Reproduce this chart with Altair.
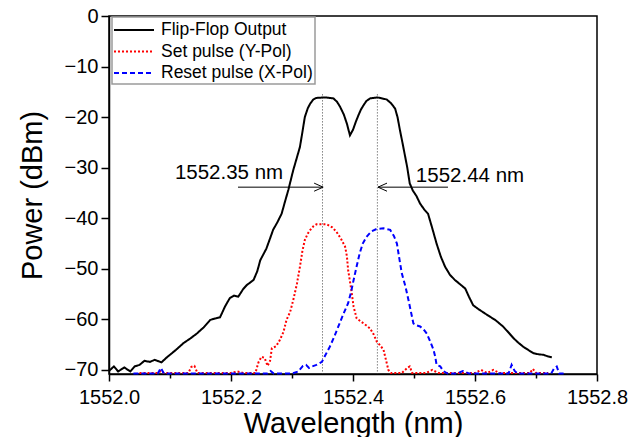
import altair as alt
import pandas as pd

FONT = "Liberation Sans"

# Flip-Flop Output (black)
ff_wl = [1552.000, 1552.008, 1552.015, 1552.025, 1552.035, 1552.042, 1552.050, 1552.058, 1552.067, 1552.075,
         1552.086, 1552.094, 1552.100, 1552.110, 1552.122, 1552.133, 1552.144, 1552.155, 1552.166, 1552.175,
         1552.182, 1552.190, 1552.198, 1552.205, 1552.212, 1552.220, 1552.226, 1552.237, 1552.243, 1552.248,
         1552.258, 1552.264, 1552.269, 1552.276, 1552.283, 1552.289, 1552.294, 1552.302, 1552.308, 1552.313,
         1552.317, 1552.321, 1552.326, 1552.330, 1552.335, 1552.340, 1552.355, 1552.368, 1552.374, 1552.379,
         1552.385, 1552.390, 1552.395, 1552.400, 1552.405, 1552.409, 1552.413, 1552.417, 1552.422, 1552.428,
         1552.440, 1552.455, 1552.462, 1552.469, 1552.473, 1552.477, 1552.481, 1552.485, 1552.489, 1552.493,
         1552.498, 1552.504, 1552.510, 1552.517, 1552.523, 1552.530, 1552.537, 1552.544, 1552.551, 1552.559,
         1552.567, 1552.575, 1552.584, 1552.590, 1552.597, 1552.606, 1552.616, 1552.625, 1552.633, 1552.640,
         1552.646, 1552.655, 1552.663, 1552.671, 1552.679, 1552.688, 1552.696, 1552.704, 1552.712, 1552.719,
         1552.726]
ff_p = [-70.2, -69.3, -70.3, -69.5, -70.3, -69.3, -69.0, -68.2, -68.4, -68.0,
        -68.5, -67.6, -67.0, -66.0, -64.7, -63.8, -62.8, -61.6, -60.1, -59.8,
        -59.6, -57.5, -55.8, -55.3, -55.5, -54.0, -53.2, -52.2, -50.5, -48.3,
        -46.0, -44.0, -42.3, -40.8, -39.1, -36.5, -34.4, -30.5, -28.0, -25.9,
        -23.0, -20.0, -18.2, -17.3, -16.5, -16.2, -16.1, -16.3, -17.0, -18.0,
        -19.5, -21.3, -23.6, -22.5, -20.8, -19.6, -18.5, -17.7, -16.8, -16.3,
        -16.1, -16.5, -17.2, -18.3, -20.0, -22.6, -25.0, -27.5, -30.0, -33.1,
        -34.5, -35.6, -37.1, -38.3, -39.1, -42.0, -45.0, -47.6, -49.6, -51.2,
        -52.2, -53.0, -53.9, -55.5, -57.2, -58.0, -58.8, -59.5, -60.1, -60.8,
        -61.4, -62.6, -63.7, -64.6, -65.4, -66.1, -66.7, -66.9, -67.0, -67.3,
        -67.5]

# Set pulse (Y-Pol) (red dotted)
set_wl = [1552.050, 1552.080, 1552.085, 1552.090, 1552.130, 1552.135, 1552.140, 1552.145, 1552.200, 1552.210,
          1552.220, 1552.240, 1552.245, 1552.250, 1552.255, 1552.260, 1552.264, 1552.267, 1552.274, 1552.280,
          1552.286, 1552.291, 1552.297, 1552.302, 1552.308, 1552.313, 1552.317, 1552.321, 1552.326, 1552.330,
          1552.335, 1552.340, 1552.357, 1552.366, 1552.373, 1552.380, 1552.387, 1552.390, 1552.392, 1552.397,
          1552.401, 1552.406, 1552.415, 1552.422, 1552.428, 1552.434, 1552.439, 1552.445, 1552.450, 1552.454,
          1552.458, 1552.462, 1552.480, 1552.490, 1552.493, 1552.497, 1552.520, 1552.530, 1552.540, 1552.600,
          1552.610, 1552.620, 1552.630, 1552.640, 1552.690, 1552.695, 1552.700, 1552.720]
set_p = [-70.6, -70.6, -70.2, -70.6, -70.6, -69.4, -69.2, -70.6, -70.6, -70.3,
         -70.6, -70.6, -68.5, -67.4, -67.6, -69.2, -68.2, -65.7, -65.3, -64.1,
         -62.5, -60.1, -58.5, -56.2, -53.0, -49.6, -46.5, -44.3, -43.0, -42.3,
         -41.6, -41.2, -41.2, -41.8, -42.7, -44.0, -45.6, -47.5, -50.2, -54.0,
         -57.5, -59.8, -60.6, -61.2, -61.8, -63.0, -64.4, -65.2, -66.0, -68.0,
         -70.0, -70.6, -70.6, -69.5, -69.3, -70.6, -70.6, -70.0, -70.6, -70.6,
         -70.0, -70.6, -70.0, -70.6, -70.6, -69.8, -70.6, -70.6]

# Reset pulse (X-Pol) (blue dashed)
reset_wl = [1552.040, 1552.080, 1552.085, 1552.090, 1552.150, 1552.260, 1552.265, 1552.270, 1552.300, 1552.310,
            1552.318, 1552.323, 1552.328, 1552.333, 1552.340, 1552.349, 1552.355, 1552.362, 1552.369, 1552.376,
            1552.384, 1552.392, 1552.397, 1552.401, 1552.406, 1552.411, 1552.416, 1552.422, 1552.430, 1552.439,
            1552.450, 1552.461, 1552.467, 1552.472, 1552.476, 1552.480, 1552.486, 1552.491, 1552.495, 1552.499,
            1552.505, 1552.510, 1552.516, 1552.521, 1552.527, 1552.532, 1552.535, 1552.537, 1552.543, 1552.548,
            1552.555, 1552.570, 1552.580, 1552.590, 1552.655, 1552.660, 1552.665, 1552.670, 1552.725, 1552.730,
            1552.734, 1552.738, 1552.748]
reset_p = [-70.7, -70.7, -69.6, -70.7, -70.7, -70.7, -70.2, -70.7, -70.7, -70.3,
           -69.2, -69.0, -69.6, -69.3, -69.0, -68.4, -67.0, -65.4, -63.5, -61.4,
           -59.0, -56.8, -54.5, -52.2, -49.5, -46.9, -45.0, -43.7, -42.6, -42.1,
           -42.0, -42.3, -43.5, -45.0, -48.0, -50.9, -53.5, -56.2, -58.5, -60.8,
           -61.2, -61.4, -62.0, -62.8, -64.5, -66.0, -67.5, -69.0, -69.3, -70.2,
           -70.7, -70.7, -70.2, -70.7, -70.7, -69.0, -70.2, -70.7, -70.7, -69.6,
           -69.3, -70.7, -70.7]

series_names = ["Flip-Flop Output", "Set pulse (Y-Pol)", "Reset pulse (X-Pol)"]
series_colors = ["#000000", "#ff0000", "#0000ff"]
series_dash = [[1, 0], [2, 2], [5, 3]]

# annotations
peak_wl = [1552.35, 1552.44]
peak_labels = ["1552.35 nm", "1552.44 nm"]
arrow_tail_wl = [1552.2115, 1552.5557]
arrow_tip_wl = [1552.351, 1552.441]
arrow_p = [-33.85, -33.85]
label_wl = [1552.108, 1552.503]
label_p = [-31.1, -31.6]
vline_top = -15.5
vline_bottom = -70.8

x_ticks = [round(1552.0 + 0.05 * k, 2) for k in range(17)]
y_ticks = [-70 + 5 * k for k in range(15)]

rows = []
for name, wl, p in zip(series_names, [ff_wl, set_wl, reset_wl], [ff_p, set_p, reset_p]):
    for a, b in zip(wl, p):
        rows.append({"series": name, "wl": a, "p": b})
df = pd.DataFrame(rows)

xscale = alt.Scale(domain=[1552.0, 1552.8], nice=False, zero=False)
yscale = alt.Scale(domain=[-70.8, 0], nice=False, zero=False)

xaxis = alt.Axis(
    title="Wavelength (nm)", values=x_ticks, grid=False,
    labelExpr="round(datum.value*20) % 4 === 0 ? format(datum.value, '.1f') : ''",
    tickSize={"condition": {"test": "round(datum.value*20) % 4 === 0", "value": 7}, "value": 4},
    labelPadding=6, titlePadding=2, labelOverlap=False, labelFlush=False,
)
yaxis = alt.Axis(
    title="Power (dBm)", values=y_ticks, grid=False,
    labelExpr="datum.value % 10 === 0 ? format(datum.value, 'd') : ''",
    tickSize={"condition": {"test": "datum.value % 10 === 0", "value": 8}, "value": 4},
    labelPadding=3, titlePadding=17, labelOverlap=False, labelFlush=False,
)

lines = alt.Chart(df).mark_line(strokeWidth=2, interpolate="linear").encode(
    x=alt.X("wl:Q", scale=xscale, axis=xaxis),
    y=alt.Y("p:Q", scale=yscale, axis=yaxis),
    color=alt.Color("series:N", scale=alt.Scale(domain=series_names, range=series_colors),
                    sort=series_names,
                    legend=alt.Legend(title=None, orient="none", legendX=3, legendY=1,
                                      symbolType="M-2,0L2,0", symbolSize=400, symbolStrokeWidth=2,
                                      symbolOffset=9, labelOffset=16,
                                      labelFontSize=17.5, labelFont=FONT,
                                      padding=2, rowPadding=1.5, labelLimit=400,
                                      strokeColor="#9a9a9a", fillColor="white")),
    strokeDash=alt.StrokeDash("series:N", scale=alt.Scale(domain=series_names, range=series_dash),
                              sort=series_names, legend=alt.Legend(title=None)),
)

vdf = pd.DataFrame({"wl": peak_wl, "top": [vline_top] * 2, "bottom": [vline_bottom] * 2})
vlines = alt.Chart(vdf).mark_rule(color="#444444", strokeWidth=1, strokeDash=[1, 2]).encode(
    x="wl:Q", y="top:Q", y2="bottom:Q")

adf = pd.DataFrame({"tail": arrow_tail_wl, "tip": arrow_tip_wl, "p": arrow_p,
                    "lx": label_wl, "lp": label_p, "label": peak_labels,
                    "dir": ["right", "left"]})
shafts = alt.Chart(adf).mark_rule(color="black", strokeWidth=1).encode(
    x="tail:Q", x2="tip:Q", y="p:Q")
head_r = alt.Chart(adf).transform_filter("datum.dir === 'right'").mark_point(
    shape="M-1,-0.45L0,0L-1,0.45", size=324, filled=False, stroke="black", strokeWidth=1, opacity=1
).encode(x="tip:Q", y="p:Q")
head_l = alt.Chart(adf).transform_filter("datum.dir === 'left'").mark_point(
    shape="M1,-0.45L0,0L1,0.45", size=324, filled=False, stroke="black", strokeWidth=1, opacity=1
).encode(x="tip:Q", y="p:Q")
labels = alt.Chart(adf).mark_text(align="left", baseline="middle", fontSize=20.5, font=FONT,
                                  color="black").encode(x="lx:Q", y="lp:Q", text="label:N")

chart = alt.layer(vlines, lines, shafts, head_r, head_l, labels).properties(
    width=488, height=358,
    padding={"left": 101, "top": 8, "right": 37, "bottom": 63},
    autosize=alt.AutoSizeParams(type="none"),
).configure_view(stroke="black", strokeWidth=1.5).configure_axis(
    domainColor="black", domainWidth=1.5, tickColor="black", tickWidth=1.5,
    labelFont=FONT, labelFontSize=20, labelColor="black",
    titleFont=FONT, titleFontSize=29, titleFontWeight="normal", titleColor="black",
).configure_legend(strokeWidth=1.5)

chart.save("out.html", embed_options={"renderer": "svg", "actions": False})
